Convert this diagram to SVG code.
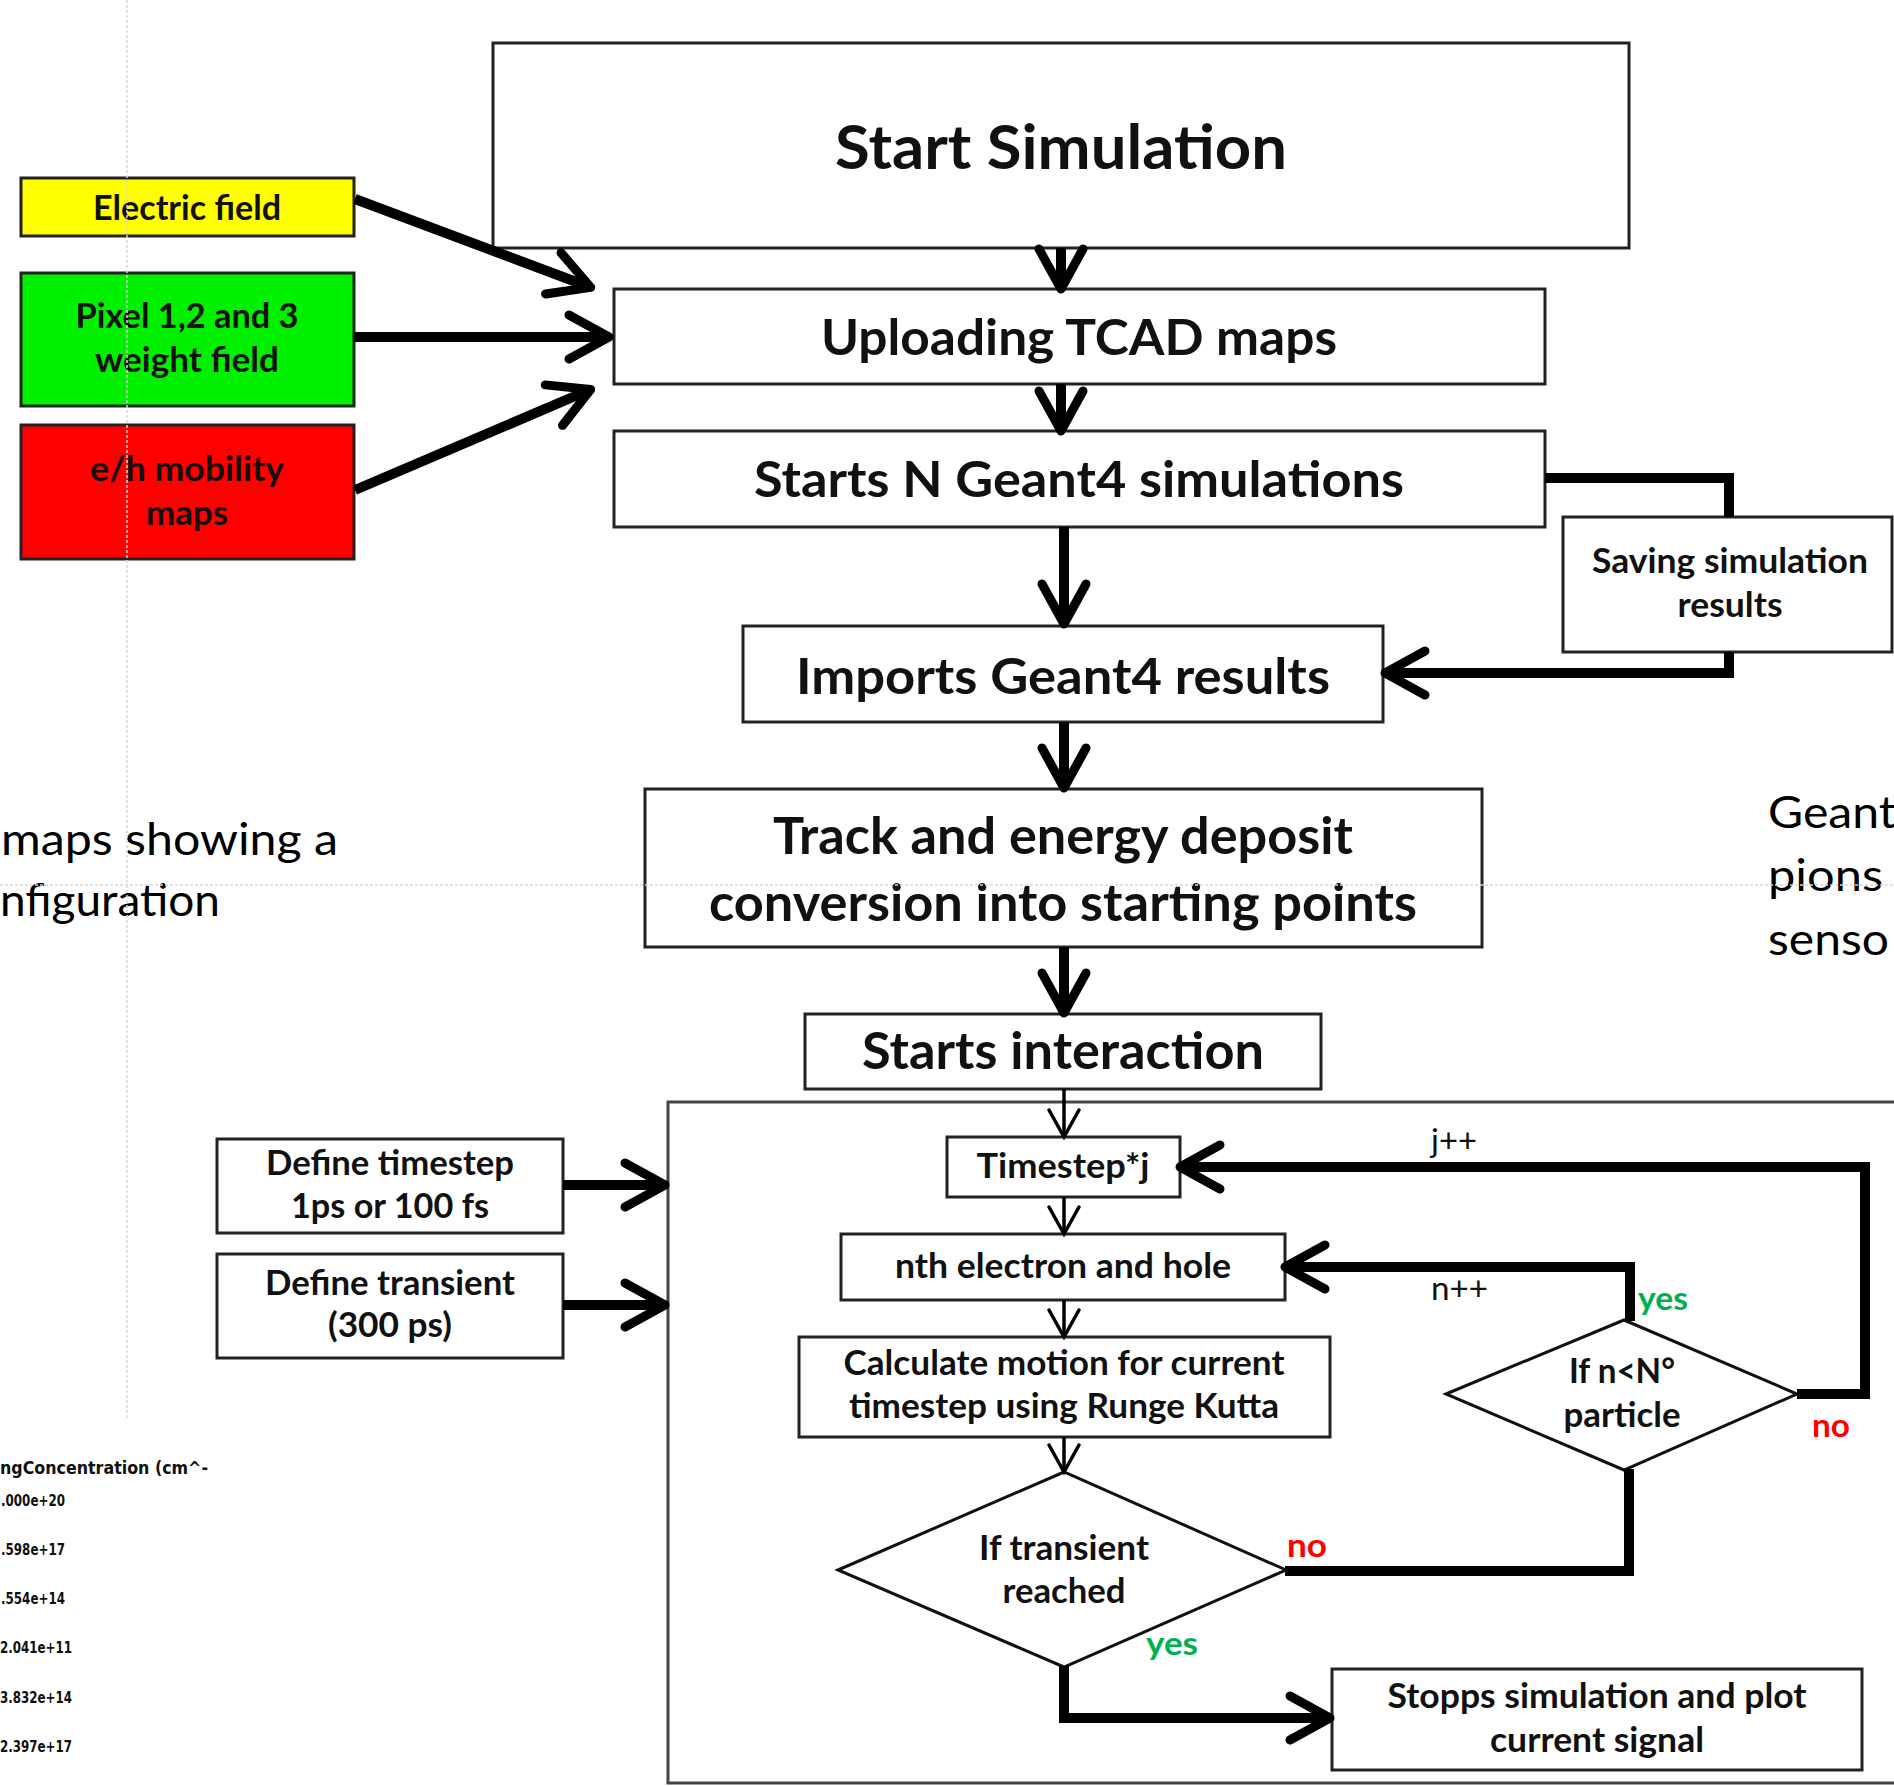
<svg xmlns="http://www.w3.org/2000/svg" width="1894" height="1786" viewBox="0 0 1894 1786">
<defs>
<style>
.box{fill:#fff;stroke:#222;stroke-width:3}
.dia{fill:#fff;stroke:#111;stroke-width:3}
.t{font-family:Lato,'Liberation Sans',sans-serif;font-weight:700;text-anchor:middle;fill:#111}
.s34{font-size:34px}
.s50{font-size:50px}
.lbl{font-family:Lato,'Liberation Sans',sans-serif;font-size:32px;fill:#111}
.yes{font-family:Lato,'Liberation Sans',sans-serif;font-size:32px;font-weight:700;fill:#00B050}
.no{font-family:Lato,'Liberation Sans',sans-serif;font-size:32px;font-weight:700;fill:#FF0000}
.bg{font-family:Lato,'Liberation Sans',sans-serif;font-size:45px;fill:#000}
.leg{font-family:'DejaVu Sans',sans-serif;font-weight:700;fill:#111}
.thick{fill:none;stroke:#000;stroke-width:10;stroke-linejoin:miter}
.thin{fill:none;stroke:#000;stroke-width:3.5}
.guide{fill:none;stroke:#d8d8d8;stroke-width:1.5;stroke-dasharray:3 2}
</style>
<marker id="ah" viewBox="0 0 60 56" refX="48" refY="28" markerWidth="60" markerHeight="56" markerUnits="userSpaceOnUse" orient="auto" overflow="visible">
<path d="M12,6 L52,28 L12,50" fill="none" stroke="#000" stroke-width="9" stroke-linecap="round" stroke-linejoin="round"/>
</marker>
<marker id="at" viewBox="0 0 34 34" refX="30" refY="17" markerWidth="34" markerHeight="34" markerUnits="userSpaceOnUse" orient="auto" overflow="visible">
<path d="M3,2 L30,17 L3,32" fill="none" stroke="#000" stroke-width="3.5" stroke-linecap="round"/>
</marker>
</defs>
<rect width="1894" height="1786" fill="#fff"/>

<!-- background slide text -->
<g id="bg-text">
<text class="bg" x="1" y="855" textLength="337" lengthAdjust="spacingAndGlyphs">maps showing a</text>
<text class="bg" x="0" y="916" textLength="220" lengthAdjust="spacingAndGlyphs">nfiguration</text>
<text class="bg" x="1768" y="828" textLength="128" lengthAdjust="spacingAndGlyphs">Geant</text>
<text class="bg" x="1768" y="891" textLength="115" lengthAdjust="spacingAndGlyphs">pions</text>
<text class="bg" x="1768" y="955" textLength="121" lengthAdjust="spacingAndGlyphs">senso</text>
</g>
<g id="legend">
<text class="leg" x="0" y="1474" font-size="17" textLength="208" lengthAdjust="spacingAndGlyphs">ngConcentration (cm^-</text>
<text class="leg" x="1" y="1506" font-size="15" textLength="64" lengthAdjust="spacingAndGlyphs">.000e+20</text>
<text class="leg" x="1" y="1555" font-size="15" textLength="64" lengthAdjust="spacingAndGlyphs">.598e+17</text>
<text class="leg" x="1" y="1604" font-size="15" textLength="64" lengthAdjust="spacingAndGlyphs">.554e+14</text>
<text class="leg" x="0" y="1653" font-size="15" textLength="72" lengthAdjust="spacingAndGlyphs">2.041e+11</text>
<text class="leg" x="0" y="1703" font-size="15" textLength="72" lengthAdjust="spacingAndGlyphs">3.832e+14</text>
<text class="leg" x="0" y="1752" font-size="15" textLength="72" lengthAdjust="spacingAndGlyphs">2.397e+17</text>
</g>

<!-- container -->
<g id="loop-container">
<rect x="668" y="1102" width="1240" height="681" fill="none" stroke="#444" stroke-width="3"/>
</g>

<g id="n-electric">
<rect x="21" y="178" width="333" height="58" fill="#FFFF00" stroke="#222" stroke-width="3"/>
<text class="t s34" x="187" y="220" textLength="188" lengthAdjust="spacingAndGlyphs">Electric field</text>
</g>
<g id="n-pixel">
<rect x="21" y="273" width="333" height="133" fill="#00F000" stroke="#222" stroke-width="3"/>
<text class="t s34" x="187" y="328" textLength="223" lengthAdjust="spacingAndGlyphs">Pixel 1,2 and 3</text>
<text class="t s34" x="187" y="372" textLength="184" lengthAdjust="spacingAndGlyphs">weight field</text>
</g>
<g id="n-mobility">
<rect x="21" y="425" width="333" height="134" fill="#FF0000" stroke="#222" stroke-width="3"/>
<text class="t s34" x="187" y="481" textLength="194" lengthAdjust="spacingAndGlyphs">e/h mobility</text>
<text class="t s34" x="187" y="525" textLength="82" lengthAdjust="spacingAndGlyphs">maps</text>
</g>

<g id="n-start">
<rect class="box" x="493" y="43" width="1136" height="205"/>
<text class="t" x="1061" y="169" font-size="62" textLength="452" lengthAdjust="spacingAndGlyphs">Start Simulation</text>
</g>
<g id="n-upload">
<rect class="box" x="614" y="289" width="931" height="95"/>
<text class="t" x="1079" y="355" font-size="49" textLength="516" lengthAdjust="spacingAndGlyphs">Uploading TCAD maps</text>
</g>
<g id="n-geant">
<rect class="box" x="614" y="431" width="931" height="96"/>
<text class="t s50" x="1079" y="497" textLength="650" lengthAdjust="spacingAndGlyphs">Starts N Geant4 simulations</text>
</g>
<g id="n-saving">
<rect class="box" x="1563" y="517" width="329" height="135"/>
<text class="t s34" x="1730" y="573" textLength="276" lengthAdjust="spacingAndGlyphs">Saving simulation</text>
<text class="t s34" x="1730" y="617" textLength="105" lengthAdjust="spacingAndGlyphs">results</text>
</g>
<g id="n-imports">
<rect class="box" x="743" y="626" width="640" height="96"/>
<text class="t s50" x="1063" y="694" textLength="534" lengthAdjust="spacingAndGlyphs">Imports Geant4 results</text>
</g>
<g id="n-track">
<rect class="box" x="645" y="789" width="837" height="158"/>
<text class="t" x="1063" y="854" font-size="51" textLength="580" lengthAdjust="spacingAndGlyphs">Track and energy deposit</text>
<text class="t" x="1063" y="921" font-size="51" textLength="708" lengthAdjust="spacingAndGlyphs">conversion into starting points</text>
</g>
<g id="n-interaction">
<rect class="box" x="805" y="1014" width="516" height="75"/>
<text class="t" x="1063" y="1069" font-size="51" textLength="402" lengthAdjust="spacingAndGlyphs">Starts interaction</text>
</g>
<g id="n-deftimestep">
<rect class="box" x="217" y="1139" width="346" height="94"/>
<text class="t s34" x="390" y="1175" textLength="248" lengthAdjust="spacingAndGlyphs">Define timestep</text>
<text class="t s34" x="390" y="1218" textLength="198" lengthAdjust="spacingAndGlyphs">1ps or 100 fs</text>
</g>
<g id="n-deftransient">
<rect class="box" x="217" y="1254" width="346" height="104"/>
<text class="t s34" x="390" y="1295" textLength="250" lengthAdjust="spacingAndGlyphs">Define transient</text>
<text class="t s34" x="390" y="1337" textLength="124" lengthAdjust="spacingAndGlyphs">(300 ps)</text>
</g>
<g id="n-timestep">
<rect class="box" x="947" y="1137" width="233" height="60"/>
<text class="t s34" x="1063" y="1178" textLength="173" lengthAdjust="spacingAndGlyphs">Timestep*j</text>
</g>
<g id="n-nth">
<rect class="box" x="841" y="1234" width="444" height="66"/>
<text class="t s34" x="1063" y="1278" textLength="336" lengthAdjust="spacingAndGlyphs">nth electron and hole</text>
</g>
<g id="n-calc">
<rect class="box" x="799" y="1337" width="531" height="100"/>
<text class="t s34" x="1064" y="1375" textLength="441" lengthAdjust="spacingAndGlyphs">Calculate motion for current</text>
<text class="t s34" x="1064" y="1418" textLength="430" lengthAdjust="spacingAndGlyphs">timestep using Runge Kutta</text>
</g>
<g id="n-ifparticle">
<polygon class="dia" points="1446,1394 1624,1320 1797,1394 1624,1470"/>
<text class="t s34" x="1622" y="1383" textLength="106" lengthAdjust="spacingAndGlyphs">If n&lt;N°</text>
<text class="t s34" x="1622" y="1427" textLength="117" lengthAdjust="spacingAndGlyphs">particle</text>
</g>
<g id="n-iftransient">
<polygon class="dia" points="838,1570 1064,1472 1286,1570 1064,1667"/>
<text class="t s34" x="1064" y="1560" textLength="170" lengthAdjust="spacingAndGlyphs">If transient</text>
<text class="t s34" x="1064" y="1603" textLength="123" lengthAdjust="spacingAndGlyphs">reached</text>
</g>
<g id="n-stop">
<rect class="box" x="1332" y="1669" width="530" height="101"/>
<text class="t s34" x="1597" y="1708" textLength="419" lengthAdjust="spacingAndGlyphs">Stopps simulation and plot</text>
<text class="t s34" x="1597" y="1752" textLength="214" lengthAdjust="spacingAndGlyphs">current signal</text>
</g>

<g id="connectors">
<path class="thick" d="M355,199 L587,286" marker-end="url(#ah)"/>
<path class="thick" d="M354,337 L605,337" marker-end="url(#ah)"/>
<path class="thick" d="M355,490 L587,391" marker-end="url(#ah)"/>
<path class="thick" d="M1061,248 L1061,285" marker-end="url(#ah)"/>
<path class="thick" d="M1061,384 L1061,427" marker-end="url(#ah)"/>
<path class="thick" d="M1064,527 L1064,620" marker-end="url(#ah)"/>
<path class="thick" d="M1545,478 L1729,478 L1729,517"/>
<path class="thick" d="M1729,652 L1729,673 L1389,673" marker-end="url(#ah)"/>
<path class="thick" d="M1064,722 L1064,784" marker-end="url(#ah)"/>
<path class="thick" d="M1064,947 L1064,1009" marker-end="url(#ah)"/>
<path class="thin" d="M1064,1089 L1064,1137" marker-end="url(#at)"/>
<path class="thin" d="M1064,1197 L1064,1234" marker-end="url(#at)"/>
<path class="thin" d="M1064,1300 L1064,1337" marker-end="url(#at)"/>
<path class="thin" d="M1064,1437 L1064,1472" marker-end="url(#at)"/>
<path class="thick" d="M563,1185 L661,1185" marker-end="url(#ah)"/>
<path class="thick" d="M563,1305 L661,1305" marker-end="url(#ah)"/>
<path class="thick" d="M1630,1321 L1630,1267 L1289,1267" marker-end="url(#ah)"/>
<path class="thick" d="M1797,1394 L1865,1394 L1865,1167 L1184,1167" marker-end="url(#ah)"/>
<path class="thick" d="M1285,1571 L1629,1571 L1629,1469"/>
<path class="thick" d="M1064,1666 L1064,1718 L1326,1718" marker-end="url(#ah)"/>
<text class="lbl" x="1431" y="1152" textLength="46" lengthAdjust="spacingAndGlyphs">j++</text>
<text class="lbl" x="1431" y="1300" textLength="57" lengthAdjust="spacingAndGlyphs">n++</text>
<text class="yes" x="1638" y="1310" textLength="50" lengthAdjust="spacingAndGlyphs">yes</text>
<text class="no" x="1812" y="1437" textLength="38" lengthAdjust="spacingAndGlyphs">no</text>
<text class="no" x="1287" y="1557" textLength="40" lengthAdjust="spacingAndGlyphs">no</text>
<text class="yes" x="1146" y="1655" textLength="52" lengthAdjust="spacingAndGlyphs">yes</text>
</g>

<g id="guides">
<line class="guide" x1="127" y1="0" x2="127" y2="1420"/>
<line class="guide" x1="0" y1="885" x2="1894" y2="885"/>
</g>
</svg>
